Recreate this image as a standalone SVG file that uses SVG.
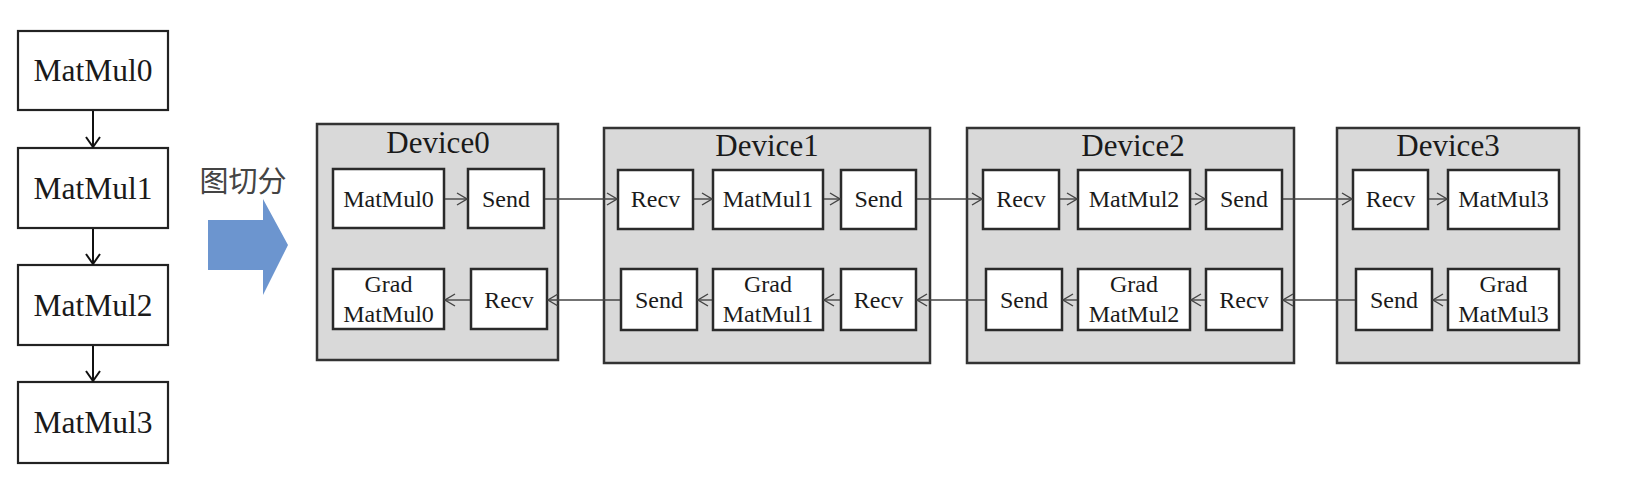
<svg xmlns="http://www.w3.org/2000/svg" width="1627" height="481" viewBox="0 0 1627 481">
<style>
.big{fill:#fff;stroke:#222;stroke-width:2.2}
.dev{fill:#d9d9d9;stroke:#333;stroke-width:2.5}
.box{fill:#fff;stroke:#2a2a2a;stroke-width:2.5}
text.t{font-family:'Liberation Serif','DejaVu Serif',serif;fill:#1a1a1a;text-anchor:middle}
.tb{font-size:31.5px}
.tt{font-size:31px}
.ts{font-size:24px}
.c{stroke:#444;stroke-width:1.4;fill:none;marker-end:url(#a)}
.cb{stroke:#111;stroke-width:2;fill:none;marker-end:url(#ab)}
</style>
<defs>
<marker id="a" markerUnits="userSpaceOnUse" markerWidth="12" markerHeight="14" refX="11" refY="7" orient="auto"><path d="M1,1 L11,7 L1,13" fill="none" stroke="#444" stroke-width="1.4"/></marker>
<marker id="ab" markerUnits="userSpaceOnUse" markerWidth="12" markerHeight="16" refX="11" refY="8" orient="auto"><path d="M1,1 L11,8 L1,15" fill="none" stroke="#111" stroke-width="2"/></marker>
</defs>
<rect width="1627" height="481" fill="#fff"/>

<g font-family="'Liberation Serif', serif">
<g id="orig-matmul0"><rect class="big" x="18" y="31" width="150" height="79"/><text class="t tb" x="93" y="81">MatMul0</text></g>
<g id="orig-matmul1"><rect class="big" x="18" y="148" width="150" height="80"/><text class="t tb" x="93" y="199">MatMul1</text></g>
<g id="orig-matmul2"><rect class="big" x="18" y="265" width="150" height="80"/><text class="t tb" x="93" y="316">MatMul2</text></g>
<g id="orig-matmul3"><rect class="big" x="18" y="382" width="150" height="81"/><text class="t tb" x="93" y="433">MatMul3</text></g>

<g id="split-arrow">
<text x="243" y="192" font-family="'Noto Sans CJK SC',sans-serif" font-size="29" fill="#444" text-anchor="middle">图切分</text>
<polygon points="208,220 263,220 263,199 288,245 263,295 263,270 208,270" fill="#6c95cf"/>
</g>

<g id="device0">
<rect class="dev" x="317" y="124" width="241" height="236"/>
<text class="t tt" x="438" y="153">Device0</text>
</g>
<g id="d0-matmul0"><rect class="box" x="333" y="169" width="111" height="59"/><text class="t ts" x="388.5" y="207">MatMul0</text></g>
<g id="d0-send"><rect class="box" x="468" y="169" width="76" height="59"/><text class="t ts" x="506" y="207">Send</text></g>
<g id="d0-grad"><rect class="box" x="333" y="269" width="111" height="60"/><text class="t ts" x="388.5" y="292">Grad</text><text class="t ts" x="388.5" y="322">MatMul0</text></g>
<g id="d0-recv"><rect class="box" x="471" y="269" width="76" height="60"/><text class="t ts" x="509" y="308">Recv</text></g>

<g id="device1">
<rect class="dev" x="604" y="128" width="326" height="235"/>
<text class="t tt" x="767" y="156">Device1</text>
</g>
<g id="d1-recv"><rect class="box" x="618" y="170" width="75" height="59"/><text class="t ts" x="655.5" y="207">Recv</text></g>
<g id="d1-matmul1"><rect class="box" x="713" y="170" width="110" height="59"/><text class="t ts" x="768" y="207">MatMul1</text></g>
<g id="d1-send"><rect class="box" x="841" y="170" width="75" height="59"/><text class="t ts" x="878.5" y="207">Send</text></g>
<g id="d1-send-b"><rect class="box" x="621" y="269" width="76" height="61"/><text class="t ts" x="659" y="308">Send</text></g>
<g id="d1-grad"><rect class="box" x="713" y="269" width="110" height="61"/><text class="t ts" x="768" y="292">Grad</text><text class="t ts" x="768" y="322">MatMul1</text></g>
<g id="d1-recv-b"><rect class="box" x="841" y="269" width="75" height="61"/><text class="t ts" x="878.5" y="308">Recv</text></g>

<g id="device2">
<rect class="dev" x="967" y="128" width="327" height="235"/>
<text class="t tt" x="1133" y="156">Device2</text>
</g>
<g id="d2-recv"><rect class="box" x="983" y="170" width="76" height="59"/><text class="t ts" x="1021" y="207">Recv</text></g>
<g id="d2-matmul2"><rect class="box" x="1078" y="170" width="112" height="59"/><text class="t ts" x="1134" y="207">MatMul2</text></g>
<g id="d2-send"><rect class="box" x="1206" y="170" width="76" height="59"/><text class="t ts" x="1244" y="207">Send</text></g>
<g id="d2-send-b"><rect class="box" x="986" y="269" width="76" height="61"/><text class="t ts" x="1024" y="308">Send</text></g>
<g id="d2-grad"><rect class="box" x="1078" y="269" width="112" height="61"/><text class="t ts" x="1134" y="292">Grad</text><text class="t ts" x="1134" y="322">MatMul2</text></g>
<g id="d2-recv-b"><rect class="box" x="1206" y="269" width="76" height="61"/><text class="t ts" x="1244" y="308">Recv</text></g>

<g id="device3">
<rect class="dev" x="1337" y="128" width="242" height="235"/>
<text class="t tt" x="1448" y="156">Device3</text>
</g>
<g id="d3-recv"><rect class="box" x="1353" y="170" width="75" height="59"/><text class="t ts" x="1390.5" y="207">Recv</text></g>
<g id="d3-matmul3"><rect class="box" x="1448" y="170" width="111" height="59"/><text class="t ts" x="1503.5" y="207">MatMul3</text></g>
<g id="d3-send"><rect class="box" x="1356" y="269" width="76" height="61"/><text class="t ts" x="1394" y="308">Send</text></g>
<g id="d3-grad"><rect class="box" x="1448" y="269" width="111" height="61"/><text class="t ts" x="1503.5" y="292">Grad</text><text class="t ts" x="1503.5" y="322">MatMul3</text></g>
</g>

<g id="connectors">
<line class="cb" x1="93" y1="111" x2="93" y2="147"/>
<line class="cb" x1="93" y1="229" x2="93" y2="264"/>
<line class="cb" x1="93" y1="346" x2="93" y2="381"/>
<line class="c" x1="445" y1="199" x2="467" y2="199"/>
<line class="c" x1="545" y1="199" x2="617" y2="199"/>
<line class="c" x1="694" y1="199" x2="712" y2="199"/>
<line class="c" x1="824" y1="199" x2="840" y2="199"/>
<line class="c" x1="917" y1="199" x2="982" y2="199"/>
<line class="c" x1="1060" y1="199" x2="1077" y2="199"/>
<line class="c" x1="1191" y1="199" x2="1205" y2="199"/>
<line class="c" x1="1283" y1="199" x2="1352" y2="199"/>
<line class="c" x1="1429" y1="199" x2="1447" y2="199"/>
<line class="c" x1="1447" y1="300" x2="1433" y2="300"/>
<line class="c" x1="1355" y1="300" x2="1283" y2="300"/>
<line class="c" x1="1205" y1="300" x2="1191" y2="300"/>
<line class="c" x1="1077" y1="300" x2="1063" y2="300"/>
<line class="c" x1="985" y1="300" x2="917" y2="300"/>
<line class="c" x1="840" y1="300" x2="824" y2="300"/>
<line class="c" x1="712" y1="300" x2="698" y2="300"/>
<line class="c" x1="620" y1="300" x2="548" y2="300"/>
<line class="c" x1="470" y1="300" x2="445" y2="300"/>
</g>
</svg>
